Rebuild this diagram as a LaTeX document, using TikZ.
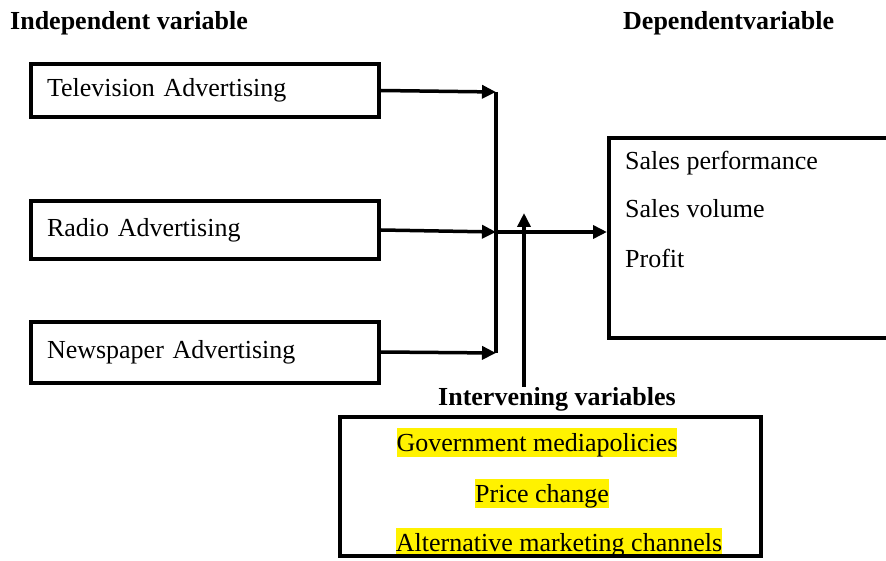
\documentclass[tikz,border=0pt]{standalone}
\usepackage{fontspec}
\setmainfont{Liberation Serif}
\usetikzlibrary{arrows.meta}

\begin{document}
\begin{tikzpicture}[
    x=1pt, y=-1pt,
    every node/.style={font=\fontsize{26}{31}\selectfont},
    heading/.style={font=\fontsize{26}{31}\selectfont\bfseries, inner sep=0pt},
    ivbox/.style={draw, line width=4pt, text width=316pt, inner xsep=16pt, align=left},
    frame/.style={draw, line width=4pt},
    item/.style={inner sep=0pt},
    marked/.style={fill=yellow, inner sep=0pt, text height=23pt, text depth=6pt},
    arrow/.style={-{Triangle[length=14pt,width=13pt]}, line width=3.5pt},
    bar/.style={line width=4.5pt}
]
    \useasboundingbox (0,0) rectangle (886,561);
    \clip (0,0) rectangle (886,561);

    % Headings
    \node[heading, anchor=base west] (indep) at (10,30) {Independent variable};
    \node[heading, anchor=base west] (dep) at (623,30) {Dependentvariable};

    % Independent variables
    \node[ivbox, minimum height=53pt] (tv) at (205,90.5) {Television Advertising};
    \node[ivbox, minimum height=58pt] (radio) at (205,230) {Radio Advertising};
    \node[ivbox, minimum height=61pt] (paper) at (205,352) {Newspaper Advertising};

    % Dependent variable
    \node[frame, anchor=north west, minimum width=400pt, minimum height=200pt] (dv) at (607,136) {};
    \node[item, anchor=base west] (perf) at ([shift={(18,34)}]dv.north west) {Sales performance};
    \node[item, anchor=base west] (vol) at ([yshift=-48pt]perf.base west) {Sales volume};
    \node[item, anchor=base west] (profit) at ([yshift=-50pt]vol.base west) {Profit};

    % Intervening variables
    \node[heading, anchor=base] (ivlabel) at (557,405) {Intervening variables};
    \node[marked, anchor=base] (policy) at (537,451) {Government mediapolicies};
    \node[marked, anchor=base] (price) at (542,502) {Price change};
    \node[marked, anchor=base] (channel) at (559,551) {Alternative marketing channels};
    \node[frame, minimum width=421pt, minimum height=139pt] (iv) at (550.5,486.5) {};

    % Junction
    \coordinate (jtop) at (496,92);
    \coordinate (jmid) at (496,232);
    \coordinate (jbot) at (496,353);
    \coordinate (ivtip) at (524,213);

    % Arrows
    \draw[arrow] (tv.east) -- (jtop);
    \draw[arrow] (radio.east) -- (jmid);
    \draw[arrow] (paper.east) -- (jbot);
    \draw[bar] (jtop) -- (jbot);
    \draw[arrow] (jmid) -- (jmid -| dv.west);
    \draw[arrow] (ivlabel.north -| ivtip) -- (ivtip);
\end{tikzpicture}
\end{document}
